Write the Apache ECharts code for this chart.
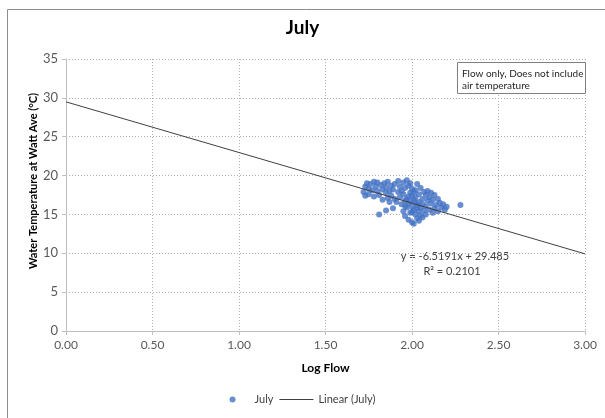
<!DOCTYPE html>
<html>
<head>
<meta charset="utf-8">
<script src="https://cdn.jsdelivr.net/npm/echarts@6/dist/echarts.min.js"></script>
<style>
  html, body { margin: 0; padding: 0; background: #fff; }
  #chart { width: 605px; height: 418px; }
</style>
</head>
<body>
<div id="chart"></div>
<script>
// July observations: [log flow, water temperature °C]
const julyPoints = [
  [1.72,17.9],[1.73,18.6],[1.73,17.4],[1.74,19.0],[1.75,18.3],[1.75,17.6],[1.76,18.9],[1.77,18.1],
  [1.78,19.2],[1.78,17.3],[1.79,18.6],[1.80,18.0],[1.80,19.1],[1.81,17.5],[1.81,15.0],[1.82,18.8],
  [1.83,18.2],[1.83,16.9],[1.84,19.0],[1.85,15.5],[1.85,17.8],[1.85,18.5],[1.86,17.1],[1.86,19.2],
  [1.87,18.0],[1.87,16.6],[1.88,18.7],[1.88,17.4],[1.89,15.8],[1.89,18.2],[1.90,17.0],[1.90,18.9],
  [1.91,16.6],[1.92,19.3],[1.92,17.9],[1.93,18.6],[1.93,17.2],[1.94,16.3],[1.94,18.0],[1.95,19.1],
  [1.95,15.4],[1.95,17.6],[1.96,16.8],[1.96,18.4],[1.96,14.8],[1.97,19.4],[1.97,17.0],[1.97,15.9],
  [1.98,18.7],[1.98,16.4],[1.98,14.3],[1.99,17.8],[1.99,15.2],[1.99,19.0],[2.00,16.0],[2.00,17.4],
  [2.00,14.0],[2.00,18.3],[2.01,15.6],[2.01,16.9],[2.01,13.8],[2.02,18.1],[2.02,15.0],[2.02,17.2],
  [2.03,16.2],[2.03,14.5],[2.03,18.9],[2.04,15.4],[2.04,17.6],[2.04,16.6],[2.05,14.9],[2.05,18.4],
  [2.05,15.9],[2.06,17.0],[2.06,16.3],[2.06,14.6],[2.07,15.5],[2.07,17.9],[2.08,16.1],[2.08,15.0],
  [2.08,17.5],[2.09,16.8],[2.09,18.0],[2.10,17.2],[2.10,15.6],[2.11,17.8],[2.11,16.4],[2.12,15.2],
  [2.12,16.9],[2.13,17.5],[2.13,15.8],[2.14,16.2],[2.15,17.0],[2.15,15.4],[2.16,16.5],[2.17,15.9],
  [2.18,16.3],[2.19,15.6],[2.20,16.0],[2.28,16.2],
  [1.99,16.7],[2.01,17.9],[2.03,15.8],[1.96,16.1],[2.02,16.5],[1.98,17.3],[2.04,14.2],[2.00,15.3]
];

// Linear trendline fitted to the July data
const trendSlope = -6.5191;
const trendIntercept = 29.485;
const trendRange = [0, 3];
const trendPoints = trendRange.map(x => [x, trendSlope * x + trendIntercept]);

const xTicks = { min: 0, max: 3, interval: 0.5 };
const yTicks = { min: 0, max: 35, interval: 5 };

const font = 'Lato, "Open Sans", sans-serif';
const chart = echarts.init(document.getElementById('chart'), null, { renderer: 'canvas' });

chart.setOption({
  animation: false,
  backgroundColor: '#ffffff',
  grid: { left: 66, right: 20, top: 59, bottom: 87 },
  xAxis: {
    type: 'value',
    min: xTicks.min, max: xTicks.max, interval: xTicks.interval,
    name: 'Log Flow', nameLocation: 'middle', nameGap: 31,
    nameTextStyle: { fontFamily: font, fontWeight: 'bold', fontSize: 12, color: '#000' },
    axisLine: { show: true, lineStyle: { color: '#bfbfbf' } },
    axisTick: { show: true, length: 4, lineStyle: { color: '#bfbfbf' } },
    axisLabel: { fontFamily: font, fontSize: 12, color: '#595959', margin: 8,
                 formatter: v => v.toFixed(2) },
    splitLine: { show: true, lineStyle: { color: '#b0b0b0', type: [1, 2] } }
  },
  yAxis: {
    type: 'value',
    min: yTicks.min, max: yTicks.max, interval: yTicks.interval,
    axisLine: { show: true, lineStyle: { color: '#bfbfbf' } },
    axisTick: { show: true, length: 4, lineStyle: { color: '#bfbfbf' } },
    axisLabel: { fontFamily: font, fontSize: 13, color: '#595959', margin: 8 },
    splitLine: { show: true, lineStyle: { color: '#b0b0b0', type: [1, 2] } }
  },
  legend: {
    bottom: 8, left: 'center',
    itemWidth: 34, itemHeight: 6, itemGap: 6,
    textStyle: { fontFamily: font, fontSize: 11, color: '#404040' },
    data: [
      { name: 'July', icon: 'circle' },
      { name: 'Linear (July)', icon: 'path://M0,0 L34,0 L34,1 L0,1 Z' }
    ]
  },
  series: [
    {
      name: 'July',
      type: 'scatter',
      data: julyPoints,
      symbolSize: 6,
      itemStyle: { color: '#4472c4' },
      z: 2
    },
    {
      name: 'Linear (July)',
      type: 'line',
      data: trendPoints,
      symbol: 'none',
      lineStyle: { color: '#404040', width: 1 },
      itemStyle: { color: '#404040' },
      z: 3
    }
  ],
  graphic: [
    { type: 'rect', left: 5, top: 7, silent: true,
      shape: { width: 598, height: 420 },
      style: { fill: 'none', stroke: '#8c8c8c', lineWidth: 1 } },
    { type: 'text', left: 'center', top: 18,
      style: { text: 'July', font: 'bold 19px ' + font, fill: '#000' } },
    { type: 'text', x: 33, y: 181, rotation: Math.PI / 2,
      style: { text: 'Water Temperature at Watt Ave (°C)', font: 'bold 11px ' + font,
               fill: '#000', align: 'center', verticalAlign: 'middle' } },
    { type: 'text', x: 455, y: 256,
      style: { text: 'y = -6.5191x + 29.485', font: '11px ' + font, fill: '#404040',
               align: 'center', verticalAlign: 'middle' } },
    { type: 'text', x: 452, y: 271,
      style: { text: 'R² = 0.2101', font: '11px ' + font, fill: '#404040',
               align: 'center', verticalAlign: 'middle' } },
    { type: 'rect', left: 457, top: 62, z: 10,
      shape: { width: 128, height: 31 },
      style: { fill: '#fff', stroke: '#808080', lineWidth: 1 } },
    { type: 'text', left: 462, top: 68, z: 11,
      style: { text: 'Flow only, Does not include\nair temperature', font: '10px ' + font,
               fill: '#262626', lineHeight: 12 } }
  ]
});
</script>
</body>
</html>
